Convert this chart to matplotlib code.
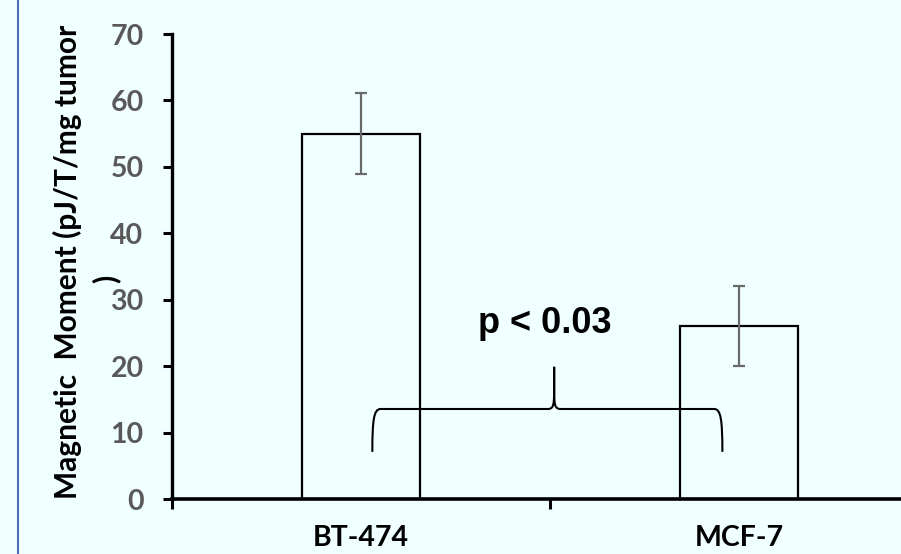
import matplotlib
matplotlib.use("Agg")
import matplotlib.pyplot as plt
from matplotlib.path import Path
from matplotlib.patches import PathPatch
from matplotlib.lines import Line2D

# data
cells = ["BT-474", "MCF-7"]
moment = [55, 26]
moment_err = [6.1, 6.0]
y_ticks = [0, 10, 20, 30, 40, 50, 60, 70]
p_label = "p < 0.03"

bg = "#F0FFFF"
plt.rcParams["font.family"] = ["Lato", "DejaVu Sans"]

fig = plt.figure(figsize=(9.01, 5.54), dpi=100, facecolor=bg)
ax = fig.add_axes([172 / 901, 1 - 499 / 554, 756 / 901, 465 / 554])
ax.set_facecolor(bg)

pos = list(range(len(cells)))
ax.bar(pos, moment, width=0.311, color=bg, edgecolor="black", linewidth=1.6,
       zorder=2)
ax.errorbar(pos, moment, yerr=moment_err, fmt="none", ecolor="#6a6a6a",
            elinewidth=1.6, capsize=4.5, capthick=1.6, zorder=3)

ax.set_xlim(-0.5, len(cells) - 0.5)
ax.set_ylim(0, 70)

for side in ("top", "right"):
    ax.spines[side].set_visible(False)
ax.spines["left"].set_linewidth(2.4)
ax.spines["bottom"].set_linewidth(2.6)
ax.spines["left"].set_bounds(0, 70)

ax.set_yticks(y_ticks)
ax.set_yticklabels([str(t) for t in y_ticks], fontsize=20.5, fontweight="bold",
                   color="#595959")
ax.tick_params(axis="y", length=6.5, width=2.2, pad=14)

# category boundaries get the ticks, names sit at the centres
ax.set_xticks([p - 0.5 for p in pos] + [pos[-1] + 0.5])
ax.set_xticklabels([])
ax.tick_params(axis="x", which="major", length=7, width=2.2)
ax.set_xticks(pos, minor=True)
ax.set_xticklabels(cells, minor=True, fontsize=20.5, fontweight="bold")
ax.tick_params(axis="x", which="minor", length=0, pad=19)

# y title wraps in the original: the closing bracket drops to a second line
fig.text(67 / 901, 1 - 262 / 554, "Magnetic  Moment (pJ/T/mg tumor",
         rotation=90, ha="center", va="center", fontsize=21.5,
         fontweight="bold")
fig.text(106 / 901, 1 - 279 / 554, ")", rotation=90, ha="center",
         va="center", fontsize=21.5, fontweight="bold")

# significance brace
xl, xm, xr = 0.030, 0.511, 0.956
yb, ye, yt = 13.55, 7.1, 19.9
dx, dy = 0.022, 1.6
verts = [(xl, ye), (xl, yb - dy), (xl + 0.004, yb), (xl + dx, yb),
         (xm - 0.018, yb),
         (xm - 0.004, yb), (xm, yb + 0.3), (xm, yb + 2.6), (xm, yt),
         (xm, yb + 2.6), (xm, yb + 0.3), (xm + 0.004, yb), (xm + 0.018, yb),
         (xr - dx, yb), (xr - 0.004, yb), (xr, yb - dy), (xr, ye)]
codes = [Path.MOVETO, Path.CURVE4, Path.CURVE4, Path.CURVE4, Path.LINETO,
         Path.CURVE4, Path.CURVE4, Path.CURVE4, Path.LINETO,
         Path.LINETO, Path.CURVE4, Path.CURVE4, Path.CURVE4,
         Path.LINETO, Path.CURVE4, Path.CURVE4, Path.CURVE4]
ax.add_patch(PathPatch(Path(verts, codes), facecolor="none", edgecolor="black",
                       linewidth=1.5, zorder=4, clip_on=False))

ax.text(0.487, 25.0, p_label, ha="center", va="baseline", fontsize=26,
        fontweight="bold", family=["Liberation Sans", "DejaVu Sans"])

# blue frame edge on the left
fig.add_artist(Line2D([17.5 / 901, 17.5 / 901], [0, 1], color="#4a6fb5",
                      linewidth=1.5, transform=fig.transFigure))

fig.savefig("out.png", dpi=100, facecolor=bg)
